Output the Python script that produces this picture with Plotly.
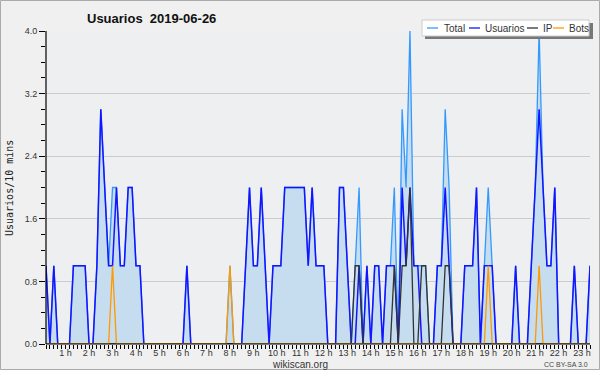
import plotly.graph_objects as go

# ---- data (10-minute buckets, 00:00 .. 23:10) ----
times = [f"{h:02d}:{m:02d}" for h in range(24) for m in range(0, 60, 10)][:140]

usuarios = [1, 0, 1, 0, 0, 0, 0, 1, 1, 1, 1, 0, 0, 1, 3, 2, 1, 1, 2, 1,
            1, 2, 2, 1, 1, 0, 0, 0, 0, 0, 0, 0, 0, 0, 0, 0, 1, 0, 0, 0,
            0, 0, 0, 0, 0, 0, 0, 0, 0, 0, 0, 1, 2, 1, 1, 2, 1, 0, 1, 1,
            1, 2, 2, 2, 2, 2, 2, 1, 2, 1, 1, 1, 0, 0, 0, 2, 2, 1, 0, 0,
            1, 0, 1, 0, 1, 1, 0, 1, 1, 1, 0, 2, 1, 2, 1, 1, 0, 0, 0, 0,
            1, 1, 2, 1, 0, 0, 0, 1, 1, 1, 2, 0, 1, 1, 1, 0, 0, 0, 0, 0,
            1, 0, 0, 0, 1, 2, 3, 2, 1, 1, 2, 0, 0, 0, 0, 1, 0, 0, 0, 1]

ip = [0, 0, 0, 0, 0, 0, 0, 0, 0, 0, 0, 0, 0, 0, 0, 0, 0, 0, 0, 0,
      0, 0, 0, 0, 0, 0, 0, 0, 0, 0, 0, 0, 0, 0, 0, 0, 0, 0, 0, 0,
      0, 0, 0, 0, 0, 0, 0, 0, 0, 0, 0, 0, 0, 0, 0, 0, 0, 0, 0, 0,
      0, 0, 0, 0, 0, 0, 0, 0, 0, 0, 0, 0, 0, 0, 0, 0, 0, 0, 0, 1,
      1, 0, 0, 0, 0, 0, 0, 0, 0, 1, 0, 1, 1, 2, 0, 0, 1, 1, 0, 0,
      0, 0, 1, 1, 0, 0, 0, 0, 0, 0, 0, 0, 0, 0, 0, 0, 0, 0, 0, 0,
      0, 0, 0, 0, 0, 0, 0, 0, 0, 0, 0, 0, 0, 0, 0, 0, 0, 0, 0, 0]

bots = [0, 0, 0, 0, 0, 0, 0, 0, 0, 0, 0, 0, 0, 0, 0, 0, 0, 1, 0, 0,
        0, 0, 0, 0, 0, 0, 0, 0, 0, 0, 0, 0, 0, 0, 0, 0, 0, 0, 0, 0,
        0, 0, 0, 0, 0, 0, 0, 1, 0, 0, 0, 0, 0, 0, 0, 0, 0, 0, 0, 0,
        0, 0, 0, 0, 0, 0, 0, 0, 0, 0, 0, 0, 0, 0, 0, 0, 0, 0, 0, 0,
        0, 0, 0, 0, 0, 0, 0, 0, 0, 0, 0, 0, 0, 0, 0, 0, 0, 0, 0, 0,
        0, 0, 0, 0, 0, 0, 0, 0, 0, 0, 0, 0, 0, 1, 0, 0, 0, 0, 0, 0,
        0, 0, 0, 0, 0, 0, 1, 0, 0, 0, 0, 0, 0, 0, 0, 0, 0, 0, 0, 0]

total = [1, 0, 1, 0, 0, 0, 0, 1, 1, 1, 1, 0, 0, 1, 3, 2, 1, 2, 2, 1,
         1, 2, 2, 1, 1, 0, 0, 0, 0, 0, 0, 0, 0, 0, 0, 0, 1, 0, 0, 0,
         0, 0, 0, 0, 0, 0, 0, 1, 0, 0, 0, 1, 2, 1, 1, 2, 1, 0, 1, 1,
         1, 2, 2, 2, 2, 2, 2, 1, 2, 1, 1, 1, 0, 0, 0, 2, 2, 1, 0, 1,
         2, 0, 1, 0, 1, 1, 0, 1, 1, 2, 0, 3, 2, 4, 1, 1, 1, 1, 0, 0,
         1, 1, 3, 2, 0, 0, 0, 1, 1, 1, 2, 0, 1, 2, 1, 0, 0, 0, 0, 0,
         1, 0, 0, 0, 1, 2, 4, 2, 1, 1, 2, 0, 0, 0, 0, 1, 0, 0, 0, 1]

y_ticks = [0.0, 0.8, 1.6, 2.4, 3.2, 4.0]
x_ticktext = [(str(int(t[:2])) + " h") if (t.endswith(":00") and t != "00:00") else "" for t in times]

# ---- geometry helpers (pixel -> paper) ----
W, H = 600, 370
L, R, T, B = 46, 10, 31, 26
PW, PH = W - L - R, H - T - B


def px(x):
    return (x - L) / PW


def py(y):
    return (H - B - y) / PH


fig = go.Figure()
fig.add_trace(go.Scatter(x=times, y=total, name="Total", mode="lines",
                         line=dict(color="#3399ff", width=1.3),
                         fill="tozeroy", fillcolor="#c6ddf0"))
fig.add_trace(go.Scatter(x=times, y=usuarios, name="Usuarios", mode="lines",
                         line=dict(color="#1414ff", width=1.5)))
fig.add_trace(go.Scatter(x=times, y=ip, name="IP", mode="lines",
                         line=dict(color="#333333", width=1.3)))
fig.add_trace(go.Scatter(x=times, y=bots, name="Bots", mode="lines",
                         line=dict(color="#ff9900", width=1.3)))

fig.update_layout(
    width=W, height=H,
    margin=dict(l=L, r=R, t=T, b=B, autoexpand=False),
    paper_bgcolor="#f0f0f0", plot_bgcolor="#eeeff1",
    showlegend=False,
    font=dict(family="Liberation Sans", size=9, color="#333333"),
)
fig.update_xaxes(type="category", range=[0, len(times) - 1], automargin=False,
                 tickmode="array", tickvals=times, ticktext=x_ticktext,
                 ticks="outside", ticklen=4, tickwidth=1, tickcolor="black",
                 showline=False,
                 showgrid=False, zeroline=False,
                 tickfont=dict(family="Liberation Sans", size=9, color="#333333"),
                 ticklabelshift=-4, ticklabelstandoff=-4)
fig.update_yaxes(range=[0, 4], automargin=False, tickmode="array", tickvals=y_ticks,
                 ticktext=[f"{v:.1f}" for v in y_ticks],
                 ticks="outside", ticklen=6, tickwidth=1, tickcolor="black",
                 showline=False,
                 showgrid=True, gridcolor="#cccccc", gridwidth=1, zeroline=False,
                 tickfont=dict(family="Liberation Sans", size=9, color="#333333"),
                 minor=dict(dtick=0.2, ticks="outside", ticklen=4, tickcolor="black", showgrid=False))

shapes = []
# axis lines drawn over the traces (like the reference)
shapes.append(dict(type="line", xref="paper", yref="paper", x0=0, x1=1, y0=0, y1=0,
                   line=dict(color="black", width=1.2), layer="above"))
shapes.append(dict(type="line", xref="paper", yref="paper", x0=0, x1=0, y0=0, y1=1,
                   line=dict(color="black", width=1.2), layer="above"))
# outer border
shapes.append(dict(type="rect", xref="paper", yref="paper",
                   x0=px(0.5), x1=px(599.5), y0=py(369.5), y1=py(0.5),
                   line=dict(color="#aaaaaa", width=1), fillcolor="rgba(0,0,0,0)", layer="above"))
# legend shadow + box
shapes.append(dict(type="rect", xref="paper", yref="paper",
                   x0=px(425), x1=px(593), y0=py(39), y1=py(23),
                   line=dict(width=0), fillcolor="#777777", layer="above"))
shapes.append(dict(type="rect", xref="paper", yref="paper",
                   x0=px(422), x1=px(589), y0=py(36), y1=py(20),
                   line=dict(color="#cccccc", width=1), fillcolor="#ffffff", layer="above"))

legend_items = [("Total", "#3399ff", 427, 442), ("Usuarios", "#1414ff", 469, 483),
                ("IP", "#333333", 527, 541), ("Bots", "#ff9900", 553, 567)]
annotations = []
for name, col, lx, tx in legend_items:
    shapes.append(dict(type="line", xref="paper", yref="paper",
                       x0=px(lx), x1=px(lx + 11), y0=py(28), y1=py(28),
                       line=dict(color=col, width=1.3), layer="above"))
    annotations.append(dict(text=name, xref="paper", yref="paper", x=px(tx), y=py(28.5),
                            xanchor="left", yanchor="middle", showarrow=False,
                            font=dict(family="Liberation Sans", size=10, color="#333333")))

annotations.append(dict(text="<b>Usuarios  2019-06-26</b>", xref="paper", yref="paper",
                        x=px(85), y=py(18), xanchor="left", yanchor="middle", showarrow=False,
                        font=dict(family="Liberation Sans", size=13, color="#111111")))
annotations.append(dict(text="Usuarios/10 mins", xref="paper", yref="paper",
                        x=px(9), y=py(188), xanchor="center", yanchor="middle", showarrow=False,
                        textangle=-90,
                        font=dict(family="DejaVu Sans Mono", size=10, color="#222222")))
annotations.append(dict(text="wikiscan.org", xref="paper", yref="paper",
                        x=px(300), y=py(364), xanchor="center", yanchor="middle", showarrow=False,
                        borderpad=0,
                        font=dict(family="Liberation Sans", size=10, color="#333333")))
annotations.append(dict(text="CC BY-SA 3.0", xref="paper", yref="paper",
                        x=px(589), y=py(364.5), xanchor="right", yanchor="middle", showarrow=False,
                        borderpad=0,
                        font=dict(family="Liberation Sans", size=7, color="#444444")))

fig.update_layout(shapes=shapes, annotations=annotations)
fig.write_html("out.html", config={"displayModeBar": False},
               post_script="document.body.style.margin='0';document.body.style.overflow='hidden';")
